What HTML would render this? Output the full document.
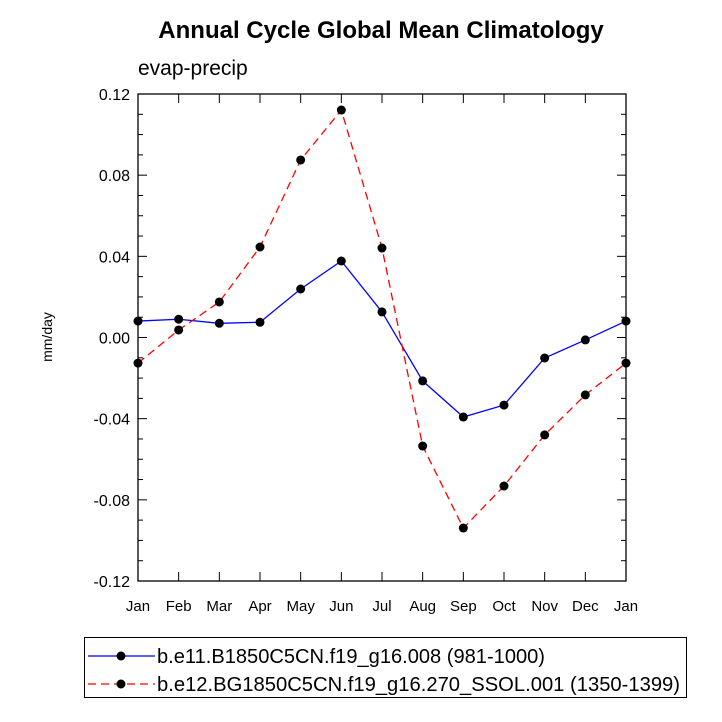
<!DOCTYPE html>
<html><head><meta charset="utf-8"><style>
html,body{margin:0;padding:0;background:#fff;width:722px;height:722px;overflow:hidden}
text{font-family:"Liberation Sans",Arial,sans-serif}
</style></head><body>
<svg id="chart" width="722" height="722" xmlns="http://www.w3.org/2000/svg">
<text x="381" y="38" text-anchor="middle" font-size="24" font-weight="bold">Annual Cycle Global Mean Climatology</text>
<text x="138" y="75" font-size="21">evap-precip</text>
<text transform="translate(52,337) rotate(-90)" text-anchor="middle" font-size="14">mm/day</text>
<g id="axes"></g>
<g id="series"></g>
<rect x="84.5" y="637.5" width="602" height="60" fill="none" stroke="#000" stroke-width="1"/>
<g>
<line x1="88" y1="656" x2="155" y2="656" stroke="#0000ff" stroke-width="1.3"/>
<circle cx="121" cy="656" r="4.5" fill="#000"/>
<text x="157" y="663" font-size="20" textLength="388" lengthAdjust="spacingAndGlyphs">b.e11.B1850C5CN.f19_g16.008 (981-1000)</text>
</g>
<g>
<line x1="88" y1="684" x2="155" y2="684" stroke="#ff0000" stroke-width="1.3" stroke-dasharray="8,5"/>
<circle cx="121" cy="684" r="4.5" fill="#000"/>
<text x="157" y="691" font-size="20" textLength="523" lengthAdjust="spacingAndGlyphs">b.e12.BG1850C5CN.f19_g16.270_SSOL.001 (1350-1399)</text>
</g>
</svg>
<script>
const months = ["Jan","Feb","Mar","Apr","May","Jun","Jul","Aug","Sep","Oct","Nov","Dec","Jan"];
const blueValues = [0.0081,0.0090,0.0070,0.0075,0.0239,0.0377,0.0126,-0.0214,-0.0392,-0.0333,-0.0101,-0.0012,0.0081];
const redValues = [-0.0126,0.0037,0.0175,0.0446,0.0875,0.1121,0.0441,-0.0535,-0.0939,-0.0732,-0.0480,-0.0283,-0.0126];
const yTicks = [0.12,0.08,0.04,0.00,-0.04,-0.08,-0.12];
const yTickLabels = ["0.12","0.08","0.04","0.00","-0.04","-0.08","-0.12"];
const L=138,R=626,T=94,B=581,yMin=-0.12,yMax=0.12;
const NS="http://www.w3.org/2000/svg";
function xs(i){return L+(R-L)*i/(months.length-1);}
function ys(v){return B-(v-yMin)/(yMax-yMin)*(B-T);}
function mk(tag,attrs,parent){const e=document.createElementNS(NS,tag);for(const k in attrs)e.setAttribute(k,attrs[k]);parent.appendChild(e);return e;}
const axes=document.getElementById('axes');
const frame=mk('rect',{x:L,y:T,width:R-L,height:B-T,fill:'none',stroke:'#000','stroke-width':1.3},axes);


for(let v=-12;v<=12;v++){
  const y=ys(v/100);const major=(v%4===0);const len=major?9:5;
  const t1=mk('line',{x1:L,y1:y,x2:L+len,y2:y,stroke:'#000','stroke-width':1},axes);
  
  
  const t2=mk('line',{x1:R,y1:y,x2:R-len,y2:y,stroke:'#000','stroke-width':1},axes);
  
  
}
yTicks.forEach((v,i)=>{
  const t=mk('text',{x:L-8,y:ys(v)+6,'text-anchor':'end','font-size':16},axes);
  t.textContent=yTickLabels[i];
  
  
});
months.forEach((m,i)=>{
  const x=xs(i);
  const a=mk('line',{x1:x,y1:B,x2:x,y2:B-9,stroke:'#000','stroke-width':1},axes);
  
  
  const b=mk('line',{x1:x,y1:T,x2:x,y2:T+9,stroke:'#000','stroke-width':1},axes);
  
  
  const t=mk('text',{x:x,y:B+30,'text-anchor':'middle','font-size':15},axes);
  t.textContent=m;
  
  
});
const ser=document.getElementById('series');
function draw(vals,color,dash,name){
  const pts=vals.map((v,i)=>xs(i)+','+ys(v)).join(' ');
  const pl=mk('polyline',{points:pts,fill:'none',stroke:color,'stroke-width':1.3},ser);
  if(dash)pl.setAttribute('stroke-dasharray',dash);
  
  
  vals.forEach((v,i)=>{
    const c=mk('circle',{cx:xs(i),cy:ys(v),r:4.5,fill:'#000'},ser);
    
    
  });
}
draw(blueValues,'#0000ff',null,'blue-series');
draw(redValues,'#ff0000','8,5','red-series');
</script>
</body></html>
